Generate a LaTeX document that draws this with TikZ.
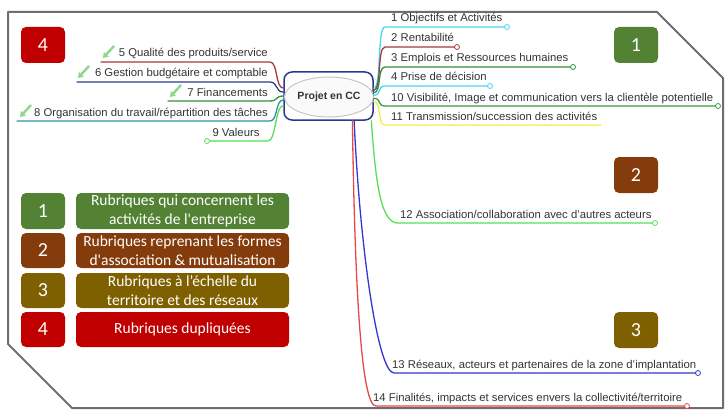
\documentclass[tikz,border=0pt]{standalone}
\usepackage{fontspec}
\setmainfont{Liberation Sans}
\newfontfamily\legfont{Carlito}
\usetikzlibrary{shapes.geometric,arrows.meta}

% couleurs des branches
\definecolor{cyanbr}{HTML}{45D6F0}
\definecolor{wine}{HTML}{A33A3A}
\definecolor{leaf}{HTML}{2F8F3A}
\definecolor{lime}{HTML}{55E055}
\definecolor{navy}{HTML}{2B3A8F}
\definecolor{royal}{HTML}{3535D0}
\definecolor{tomato}{HTML}{E84848}
\definecolor{sun}{HTML}{F2EE40}
\definecolor{tealbr}{HTML}{2F90A8}
\definecolor{penclr}{HTML}{8CD88C}
\definecolor{ink}{HTML}{333333}
\definecolor{framegray}{HTML}{6E6E6E}
% couleurs de la légende
\definecolor{legA}{HTML}{548235}
\definecolor{legB}{HTML}{843C0C}
\definecolor{legC}{HTML}{7F6000}
\definecolor{legD}{HTML}{C00000}

\tikzset{
  branch/.style={line width=1.3pt, line cap=round},
  tip/.style={circle, draw, fill=white, inner sep=0pt, minimum size=5pt, line width=0.8pt},
  lbl/.style={font=\fontsize{11.3}{13}\selectfont, text=ink, inner sep=0pt},
  tag/.style={rounded corners=5pt, text=white, minimum width=44pt, minimum height=36pt,
    inner sep=0pt, font=\legfont\fontsize{20}{22}\selectfont},
  legbox/.style={rounded corners=5pt, text=white, minimum width=213pt, minimum height=35pt,
    inner sep=0pt, align=center, font=\legfont\fontsize{15.5}{19}\selectfont},
  pen/.style={-{Triangle[length=5pt,width=6.5pt]}, line width=2.4pt, penclr}
}

\begin{document}
\begin{tikzpicture}[x=1pt, y=-1pt]
    \useasboundingbox (0,0) rectangle (728,412);

    % cadre
    \draw[framegray, line width=2pt, line join=round]
        (8,12) -- (657,12) -- (723,78) -- (723,408) -- (72,408) -- (8,344) -- cycle;

    % noeud central
    \node[draw=navy, fill=white, line width=1.5pt, rounded corners=8pt,
          minimum width=89pt, minimum height=48pt] (hub) at (328.5,96) {};
    \node[ellipse, draw=gray!45, fill=gray!4, line width=1pt,
          minimum width=82pt, minimum height=40pt, inner sep=0pt,
          font=\fontsize{10.5}{12}\selectfont\bfseries, text=ink] (core) at (329,97) {Projet en CC};

    % points des soulignés, à droite
    \coordinate (u1) at (385,27);   \coordinate (t1) at (507,27);
    \coordinate (u2) at (385,47);   \coordinate (t2) at (457,47);
    \coordinate (u3) at (385,67);   \coordinate (t3) at (573,67);
    \coordinate (u4) at (385,86);   \coordinate (t4) at (490,86);
    \coordinate (u10) at (385,106); \coordinate (t10) at (718,106);
    \coordinate (u11) at (385,125); \coordinate (t11) at (601,125);
    \coordinate (u12) at (398,223); \coordinate (t12) at (655,223);
    \coordinate (u13) at (394,373); \coordinate (t13) at (698,373);
    \coordinate (u14) at (376,406); \coordinate (t14) at (687,406);

    % points des soulignés, à gauche
    \coordinate (v5) at (270,62);  \coordinate (w5) at (101,62);
    \coordinate (v6) at (270,82);  \coordinate (w6) at (77,82);
    \coordinate (v7) at (270,101); \coordinate (w7) at (168,101);
    \coordinate (v8) at (270,121); \coordinate (w8) at (17,121);
    \coordinate (v9) at (268,141); \coordinate (w9) at (207,141);

    % branches de droite
    \draw[branch, cyanbr] (hub.10) .. controls +(8,0) and +(-8,0) .. (u1) -- (t1);
    \draw[branch, wine] (hub.7) .. controls +(8,0) and +(-8,0) .. (u2) -- (t2);
    \draw[branch, leaf] (hub.4) .. controls +(8,0) and +(-8,0) .. (u3) -- (t3);
    \draw[branch, cyanbr] (hub.1) .. controls +(8,0) and +(-8,0) .. (u4) -- (t4);
    \draw[branch, leaf!85!lime] (hub.-3) .. controls +(8,0) and +(-8,0) .. (u10) -- (t10);
    \draw[branch, sun] (hub.-7) .. controls +(8,0) and +(-8,0) .. (u11) -- (t11);

    % branches du bas
    \draw[branch, lime] (hub.-30) .. controls (376,190) and (382,223) .. (u12) -- (t12);
    \draw[branch, royal] (hub.-44) .. controls (360,250) and (378,373) .. (u13) -- (t13);
    \draw[branch, tomato] (hub.-46) .. controls (355,300) and (362,406) .. (u14) -- (t14);

    % branches de gauche
    \draw[branch, wine] (hub.170) .. controls +(-8,0) and +(8,0) .. (v5) -- (w5);
    \draw[branch, navy] (hub.175) .. controls +(-8,0) and +(8,0) .. (v6) -- (w6);
    \draw[branch, leaf] (hub.180) .. controls +(-8,0) and +(8,0) .. (v7) -- (w7);
    \draw[branch, tealbr] (hub.185) .. controls +(-8,0) and +(8,0) .. (v8) -- (w8);
    \draw[branch, lime] (hub.192) .. controls +(-8,0) and +(8,0) .. (v9) -- (w9);

    % extrémités
    \node[tip, draw=cyanbr] at (t1) {};
    \node[tip, draw=wine] at (t2) {};
    \node[tip, draw=leaf] at (t3) {};
    \node[tip, draw=cyanbr] at (t4) {};
    \node[tip, draw=leaf!85!lime] at (t10) {};
    \node[tip, draw=lime] at (t12) {};
    \node[tip, draw=royal] at (t13) {};
    \node[tip, draw=tomato] at (t14) {};
    \node[tip, draw=lime] at (w9) {};

    % textes de droite
    \node[lbl, anchor=base west] (l1) at (391,22) {1 Objectifs et Activités};
    \node[lbl, anchor=base west] (l2) at (391,42) {2 Rentabilité};
    \node[lbl, anchor=base west] (l3) at (391,62) {3 Emplois et Ressources humaines};
    \node[lbl, anchor=base west] (l4) at (391,81) {4 Prise de décision};
    \node[lbl, anchor=base west] (l10) at (391,101) {10 Visibilité, Image et communication vers la clientèle potentielle};
    \node[lbl, anchor=base west] (l11) at (391,120) {11 Transmission/succession des activités};
    \node[lbl, anchor=base west] (l12) at (400,218) {12 Association/collaboration avec d'autres acteurs};
    \node[lbl, anchor=base west] (l13) at (392,368) {13 Réseaux, acteurs et partenaires de la zone d'implantation};
    \node[lbl, anchor=base west] (l14) at (373,401) {14 Finalités, impacts et services envers la collectivité/territoire};

    % textes de gauche
    \node[lbl, anchor=base east] (l5) at (268,57) {5 Qualité des produits/service};
    \node[lbl, anchor=base east] (l6) at (268,77) {6 Gestion budgétaire et comptable};
    \node[lbl, anchor=base east] (l7) at (268,96) {7 Financements};
    \node[lbl, anchor=base east] (l8) at (268,116) {8 Organisation du travail/répartition des tâches};
    \node[lbl, anchor=base] (l9) at (236,136) {9 Valeurs};

    % icônes
    \draw[pen] (114,46) -- (103,58);
    \draw[pen] (89,66) -- (78,78);
    \draw[pen] (181,85) -- (170,97);
    \draw[pen] (31,105) -- (20,117);

    % pastilles de groupe
    \node[tag, fill=legD] (g4) at (43,45) {4};
    \node[tag, fill=legA] (g1) at (636,45) {1};
    \node[tag, fill=legB] (g2) at (636,175) {2};
    \node[tag, fill=legC] (g3) at (636,330) {3};

    % légende
    \node[tag, fill=legA] (k1) at (43,211) {1};
    \node[tag, fill=legB, minimum height=35pt] (k2) at (43,250.5) {2};
    \node[tag, fill=legC, minimum height=35pt] (k3) at (43,290.5) {3};
    \node[tag, fill=legD, minimum height=35pt] (k4) at (43,329.5) {4};
    \node[legbox, fill=legA, minimum height=36pt] (d1) at (182.5,211) {Rubriques qui concernent les\\activités de l'entreprise};
    \node[legbox, fill=legB] (d2) at (182.5,250.5) {Rubriques reprenant les formes\\d'association \& mutualisation};
    \node[legbox, fill=legC] (d3) at (182.5,290.5) {Rubriques à l’échelle du\\territoire et des réseaux};
    \node[legbox, fill=legD] (d4) at (182.5,329.5) {Rubriques dupliquées};
\end{tikzpicture}
\end{document}
